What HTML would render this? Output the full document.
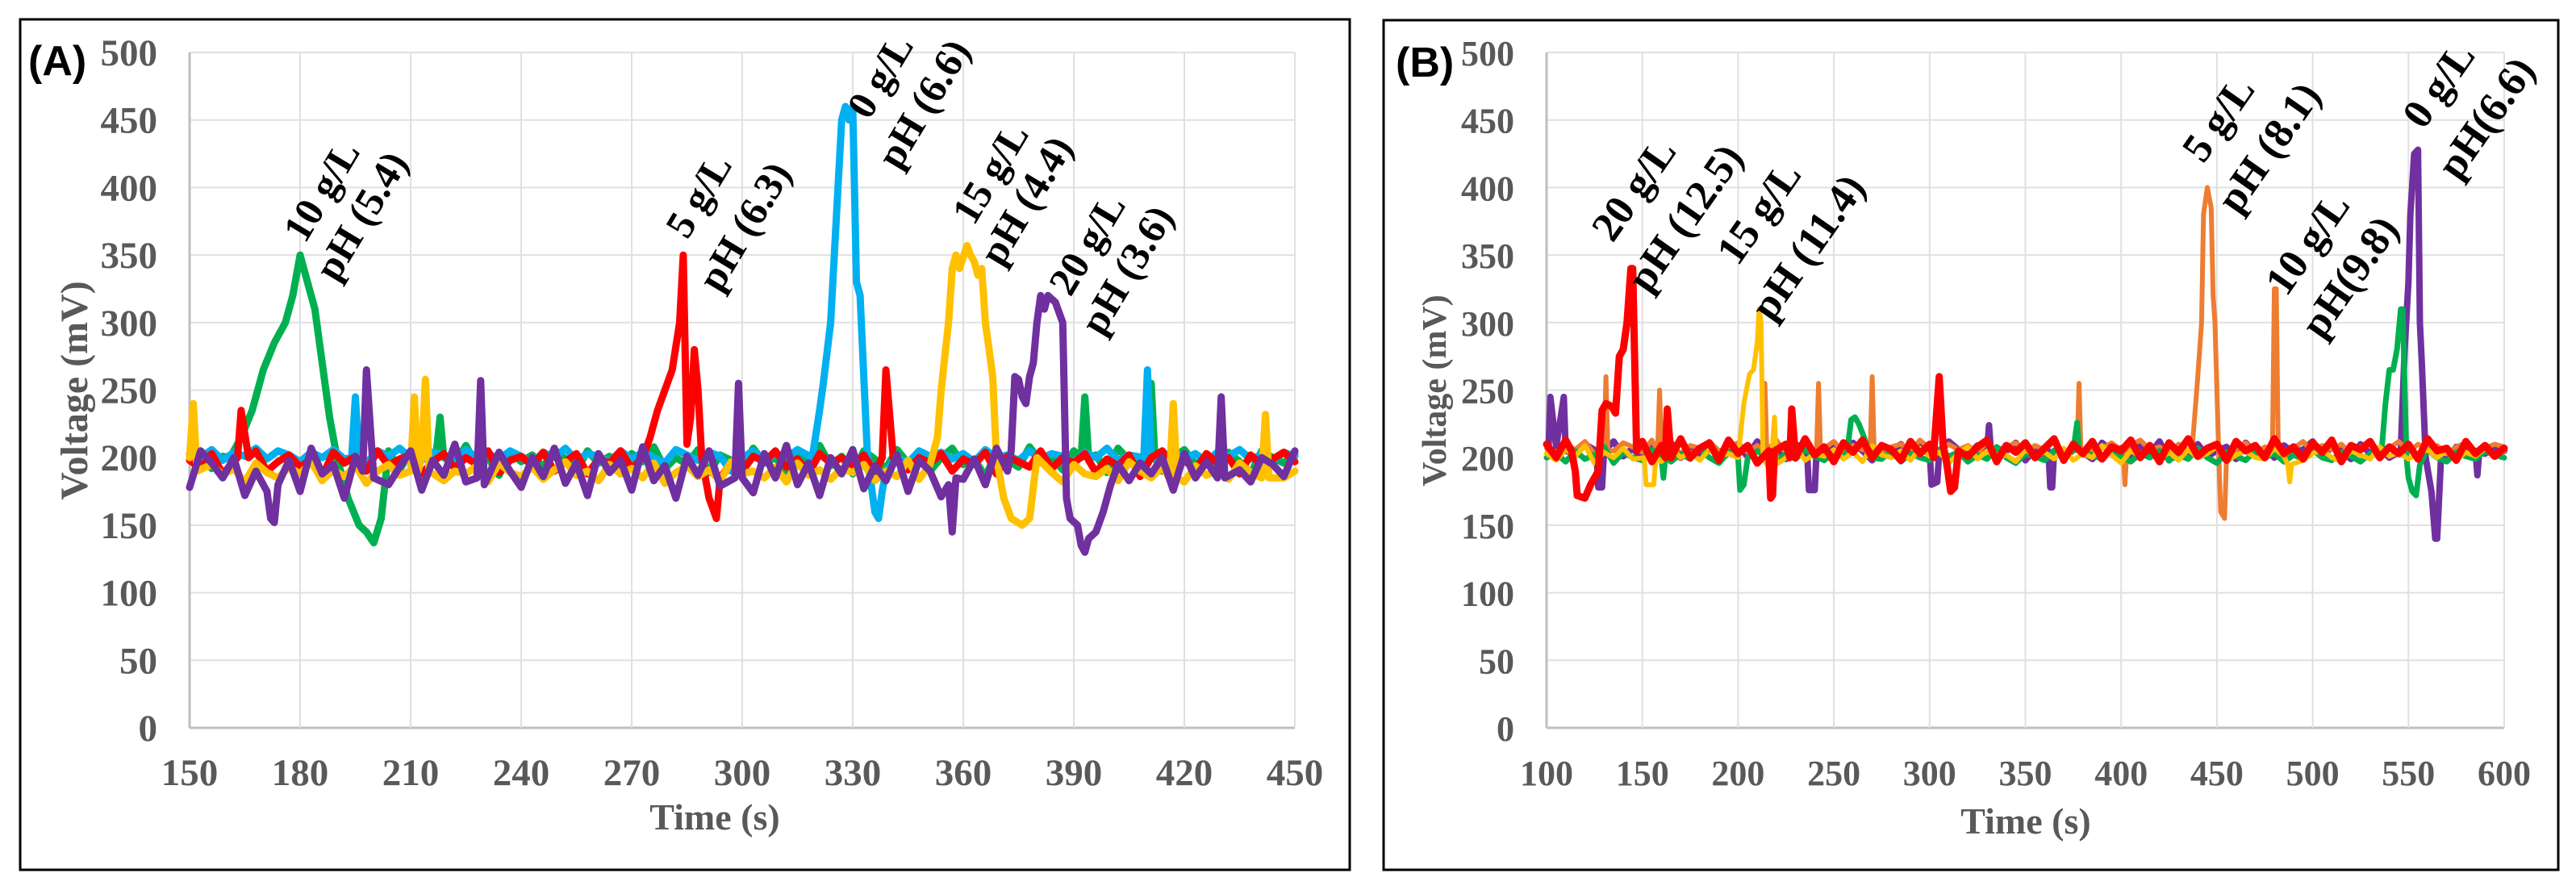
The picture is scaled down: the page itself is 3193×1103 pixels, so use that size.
<!DOCTYPE html>
<html><head><meta charset="utf-8"><title>Voltage vs Time</title>
<style>
html,body{margin:0;padding:0;background:#fff;}
svg{display:block;}
.tick{font-family:"Liberation Serif",serif;font-weight:bold;fill:#595959;}
.ann{font-family:"Liberation Serif",serif;font-weight:bold;fill:#000;}
</style></head>
<body>
<svg id="fig" width="3193" height="1103" viewBox="0 0 3193 1103" xmlns="http://www.w3.org/2000/svg">
<rect x="0" y="0" width="3193" height="1103" fill="#fff"/>
<rect x="25" y="24" width="1648" height="1054" fill="none" stroke="#000" stroke-width="3"/>
<rect x="1715" y="25" width="1456" height="1053" fill="none" stroke="#000" stroke-width="3"/>
<g id="gA"></g>
<g id="gB"></g>
<text x="35" y="93" font-family="Liberation Sans, sans-serif" font-weight="bold" font-size="52">(A)</text>
<text x="1730" y="95" font-family="Liberation Sans, sans-serif" font-weight="bold" font-size="52">(B)</text>
<text class="tick" font-size="48" text-anchor="middle" transform="translate(108,484) rotate(-90)">Voltage (mV)</text>
<text class="tick" font-size="42" text-anchor="middle" transform="translate(1792,484) rotate(-90)">Voltage (mV)</text>
<text class="tick" font-size="46" text-anchor="middle" x="886" y="1028">Time  (s)</text>
<text class="tick" font-size="46" text-anchor="middle" x="2511" y="1033">Time  (s)</text>
<g class="ann" font-size="50">
<text transform="translate(378,303) rotate(-59)">10 g/L</text>
<text transform="translate(417,351) rotate(-59)">pH (5.4)</text>
<text transform="translate(852,298) rotate(-59)">5 g/L</text>
<text transform="translate(892,364) rotate(-59)">pH (6.3)</text>
<text transform="translate(1077,150) rotate(-59)">0 g/L</text>
<text transform="translate(1114,212) rotate(-59)">pH (6.6)</text>
<text transform="translate(1207,281) rotate(-59)">15 g/L</text>
<text transform="translate(1241,332) rotate(-59)">pH (4.4)</text>
<text transform="translate(1327,369) rotate(-59)">20 g/L</text>
<text transform="translate(1366,418) rotate(-59)">pH (3.6)</text>
</g>
<g class="ann" font-size="52">
<text transform="translate(1999,302) rotate(-55)">20 g/L</text>
<text transform="translate(2043,365) rotate(-55)">pH (12.5)</text>
<text transform="translate(2154,331) rotate(-55)">15 g/L</text>
<text transform="translate(2196,400) rotate(-55)">pH (11.4)</text>
<text transform="translate(2731,204) rotate(-55)">5 g/L</text>
<text transform="translate(2774,267) rotate(-55)">pH (8.1)</text>
<text transform="translate(2834,369) rotate(-55)">10 g/L</text>
<text transform="translate(2878,422) rotate(-55)">pH(9.8)</text>
<text transform="translate(3004,162) rotate(-55)">0 g/L</text>
<text transform="translate(3047,225) rotate(-55)">pH(6.6)</text>
</g>
</svg>
<script>
// ===== Data: panel A (time 150..450, baseline sampled every 3 s) =====
const yTicks = [0,50,100,150,200,250,300,350,400,450,500];
const xTicksA = [150,180,210,240,270,300,330,360,390,420,450];
const xTicksB = [100,150,200,250,300,350,400,450,500,550,600];

const greenABase = [198,205,192,201,196,207,190,200,204,195,199,188,206,197,202,193,208,195,200,191,205,198,190,203,196,209,194,200,187,204,197,202,193,206,199,190,205,196,201,188,203,197,208,192,200,195,206,189,202,198,193,207,196,200,190,204,197,209,194,201,188,205,199,192,206,196,203,190,200,207,195,199,186,204,198,193,208,197,201,191,205,196,202,189,207,198,194,203,190,200,206,195,199,192,204,197,188,205,200,196,203];
const greenAPeakT = [161,164,167,170,173,176,178,180,182,184,186,188,190,193,196,198,200,202,204, 217,218,219, 392,393,394, 410,411,412];
const greenAPeakV = [200,215,235,265,285,300,320,350,330,310,270,230,200,170,150,145,137,155,205, 205,230,200, 200,245,200, 200,255,200];

const blueABase = [203,200,206,198,204,201,207,199,205,202,197,204,200,206,199,203,196,205,201,207,200,198,204,202,197,206,200,203,199,205,201,196,204,200,207,198,203,201,197,205,199,204,200,196,206,202,198,204,201,190,200,205,198,203,200,206,199,202,197,204,201,206,198,203,200,196,205,201,204,199,203,197,206,200,202,198,205,199,203,201,196,204,200,207,198,202,185,203,200,205,199,203,197,204,201,206,199,202,198,204,201];
const blueAPeakT = [194,195,196, 319,321,322,324,326,327,328,329,330,331,332,333,334,336,337,338,339, 409,410,411];
const blueAPeakV = [200,245,200, 200,235,255,300,400,450,460,450,460,330,320,260,200,160,155,175,190, 200,265,200];

const redABase = [198,192,203,188,200,195,205,190,197,202,193,199,186,204,196,201,190,205,194,199,202,188,197,203,192,200,195,205,189,198,201,194,204,190,197,203,188,199,196,205,192,200,195,203,187,198,202,193,204,196,190,201,197,205,193,199,188,203,196,200,194,202,189,198,205,191,200,196,203,190,199,195,204,188,201,197,193,205,192,200,196,203,189,199,194,202,186,200,205,193,198,191,203,196,200,188,202,195,199,204,197];
const redAPeakT = [163,164,166, 273,275,277,279,281,283,284,285,286,287,288,289,291,293,294, 338,339,341];
const redAPeakV = [200,235,200, 200,215,235,250,265,300,350,210,230,280,250,200,170,155,185, 200,265,200];

const yellowABase = [190,184,195,187,192,182,196,189,185,193,188,197,183,191,186,194,181,190,195,187,192,185,198,183,190,188,194,182,196,189,186,193,184,191,197,187,190,183,195,188,192,185,196,181,189,194,186,191,183,197,188,190,185,193,182,196,187,191,184,192,189,195,183,190,186,198,184,192,188,185,193,181,190,196,187,191,184,194,189,182,195,188,186,192,183,197,190,185,193,188,182,194,187,191,184,196,189,186,192,185,190];
const yellowAPeakT = [150,151,152, 210,211,212,213,214,215, 351,353,354,356,357,358,359,361,362,363,364,365,366,367,368,369,371,373,376,378,380, 416,417,418, 441,442,443];
const yellowAPeakV = [200,240,190, 190,245,190,200,258,190, 195,215,250,300,340,350,340,357,350,345,335,340,300,280,260,200,170,155,150,155,200, 185,240,185, 185,232,185];

const purpleABase = [178,205,196,185,200,172,190,203,182,198,175,207,188,195,170,201,184,209,180,193,205,176,198,187,210,182,195,173,204,190,178,200,186,207,181,196,172,203,189,198,176,208,183,194,170,201,187,205,179,197,190,174,203,185,209,180,196,172,200,188,206,177,194,183,202,175,198,190,171,205,184,199,180,207,188,195,173,202,186,198,178,204,190,175,209,183,196,188,200,176,203,185,197,179,207,191,182,200,195,186,205];
const purpleAPeakT = [171,172,173,174, 197,198,200, 228,229,230, 298,299,300, 356,357,358, 372,373,374,375,376,377,378,379,380,381,382,383,385,387,388,389,391,392,393,394,396,398,400,402, 429,430,431];
const purpleAPeakV = [175,155,152,180, 190,265,185, 185,257,180, 185,255,185, 180,145,185, 190,205,260,258,245,240,260,270,300,320,310,320,315,300,170,155,150,135,130,140,145,160,180,195, 185,245,185];

// ===== Data: panel B (time 100..600, baseline sampled every 5 s) =====
const purpleBBase = [205,208,200,203,210,198,206,212,201,207,199,209,204,211,200,206,202,210,198,205,208,201,212,203,207,199,210,204,206,200,209,202,211,205,198,207,203,210,201,208,204,199,212,206,202,209,200,207,205,211,198,206,203,210,201,208,204,199,211,205,207,200,209,203,212,198,206,204,210,201,205,208,199,211,203,207,200,209,204,206,212,201,208,205,199,210,203,207,200,211,206,202,209,204,198,208,205,210,203,207,205];
const purpleBPeakT = [101,102,109,110, 126,127,129,130, 236,237,240,241, 300,301,304,305, 330,331,332, 362,363,364,365, 546,548,550,551,553,555,556,557,559,562,564,565,567, 585,586,587];
const purpleBPeakV = [205,245,245,205, 205,178,178,205, 205,176,176,205, 205,180,182,205, 205,224,205, 205,178,178,205, 205,280,330,380,425,428,300,270,200,175,140,140,200, 205,187,205];

const orangeBBase = [207,204,210,206,212,203,209,205,211,208,204,213,206,210,203,209,207,212,205,208,211,204,209,206,213,203,208,210,205,207,212,204,209,206,211,203,208,210,205,213,207,204,210,206,209,203,212,205,208,211,204,209,206,212,203,208,210,205,207,211,204,209,213,206,208,203,210,205,212,207,204,209,206,211,203,208,210,205,207,212,204,209,206,210,203,208,211,205,207,212,204,210,206,209,203,208,211,205,207,210,208];
const orangeBPeakT = [130,131,132, 158,159,160, 213,214,215, 241,242,243, 269,270,271, 377,378,379, 401,402,403, 437,440,442,443,445,447,448,449,451,452,454,455, 479,480,481,482];
const orangeBPeakV = [205,260,205, 205,250,205, 205,255,205, 205,255,205, 205,260,205, 205,255,205, 205,180,205, 205,260,300,380,400,385,320,300,200,160,155,200, 205,325,325,205];

const greenBBase = [200,203,197,205,199,202,208,196,204,200,198,206,201,197,203,199,207,200,196,204,202,198,205,200,197,203,199,206,201,198,204,200,196,207,202,199,205,197,203,200,198,206,201,204,197,202,199,208,200,196,203,201,198,205,200,197,204,202,199,206,201,197,203,200,205,198,202,199,207,200,196,204,201,198,205,200,203,197,202,199,206,200,198,204,201,197,203,205,199,200,202,198,206,200,197,204,201,199,205,202,200];
const greenBPeakT = [160,161,162, 200,201,203,205, 257,259,261,263,265,267,269, 375,377,378, 536,538,540,542,544,546,547,549,550,552,554,556];
const greenBPeakV = [200,185,200, 200,176,180,200, 205,228,230,225,218,210,200, 205,226,205, 205,240,265,265,280,310,310,200,185,175,172,195];

const yellowBBase = [203,198,206,201,209,196,204,200,207,199,205,202,197,208,200,204,198,206,201,203,199,207,202,196,205,200,208,198,203,201,206,199,204,197,209,202,200,205,198,207,201,204,196,203,208,199,205,200,202,197,206,201,204,199,207,198,203,200,209,202,196,205,201,207,199,204,198,206,200,203,208,197,202,205,200,199,207,201,204,198,203,206,200,197,205,202,199,208,201,204,199,203,206,200,205,198,204,201,207,203,205];
const yellowBPeakT = [151,152,156,157, 200,203,206,208,210,211,212,213,217,219,220, 487,488,489];
const yellowBPeakV = [200,180,180,200, 200,240,262,265,285,310,300,200,190,230,195, 195,182,195];

const redBBase = [210,200,213,198,211,204,215,199,208,202,212,197,209,205,214,200,207,211,198,213,203,209,196,212,205,210,199,214,202,208,197,211,204,213,200,209,206,198,212,203,210,199,214,205,201,208,213,197,209,204,211,200,207,214,198,210,203,212,199,208,205,213,200,209,197,211,204,214,201,207,210,198,212,205,209,200,214,203,208,199,211,204,213,197,209,206,212,200,208,203,210,199,214,205,207,198,212,203,209,201,207];
const redBPeakT = [113,115,116,120,123,127,129,131,134,136,138,140,142,144,145,147, 162,163,165, 216,217,218,219, 227,228,230, 302,304,305,307,309,311,313,315];
const redBPeakV = [205,190,172,170,180,190,235,240,238,233,275,280,300,340,340,205, 200,236,200, 205,170,172,205, 200,236,200, 200,240,260,210,195,175,178,205];

// ===== Rendering =====
const NS = 'http://www.w3.org/2000/svg';
function mk(tag, attrs){ const e = document.createElementNS(NS, tag); for (const k in attrs) e.setAttribute(k, attrs[k]); return e; }

function mergeSeries(base, t0, step, pt, pv){
  const clusters = [];
  for (let i = 0; i < pt.length; i++){
    if (!clusters.length || pt[i] - clusters[clusters.length-1][1] > 6) clusters.push([pt[i], pt[i]]);
    else clusters[clusters.length-1][1] = pt[i];
  }
  const pts = [];
  base.forEach((v, i) => {
    const t = t0 + i*step;
    if (!clusters.some(c => t >= c[0]-1.5 && t <= c[1]+1.5)) pts.push([t, v]);
  });
  pt.forEach((t, i) => pts.push([t, pv[i]]));
  pts.sort((a, b) => a[0] - b[0]);
  return pts;
}

function drawChart(g, cfg){
  const sx = t => cfg.px0 + (t - cfg.tmin) / (cfg.tmax - cfg.tmin) * (cfg.px1 - cfg.px0);
  const sy = v => cfg.py0 - v / 500 * (cfg.py0 - cfg.py1);
  yTicks.forEach(v => {
    const l = mk('line', {x1: cfg.px0, x2: cfg.px1, y1: sy(v), y2: sy(v), stroke: v === 0 ? '#bfbfbf' : '#e0e0e0', 'stroke-width': v === 0 ? 3 : 2});
    
    
    g.appendChild(l);
    const tx = mk('text', {x: cfg.ylabX, y: sy(v) + 16, 'text-anchor': 'end', 'font-size': cfg.fs, class: 'tick'});
    
    
    tx.textContent = v;
    g.appendChild(tx);
  });
  cfg.xTicks.forEach(t => {
    const l = mk('line', {x1: sx(t), x2: sx(t), y1: cfg.py1, y2: cfg.py0, stroke: t === cfg.tmin ? '#bfbfbf' : '#e0e0e0', 'stroke-width': t === cfg.tmin ? 3 : 2});
    
    
    g.appendChild(l);
    const tx = mk('text', {x: sx(t), y: 973, 'text-anchor': 'middle', 'font-size': cfg.fs, class: 'tick'});
    
    
    tx.textContent = t;
    g.appendChild(tx);
  });
  cfg.series.forEach(s => {
    const pts = mergeSeries(s.base, cfg.tmin, cfg.step, s.pt, s.pv);
    const d = pts.map((p, i) => (i ? 'L' : 'M') + sx(p[0]).toFixed(1) + ',' + sy(p[1]).toFixed(1)).join(' ');
    const path = mk('path', {d: d, fill: 'none', stroke: s.color, 'stroke-width': s.w, 'stroke-linejoin': 'round', 'stroke-linecap': 'round'});
    
    
    g.appendChild(path);
  });
}

drawChart(document.getElementById('gA'), {
  px0: 235, px1: 1605, py0: 902, py1: 65, tmin: 150, tmax: 450, step: 3, ylabX: 195, fs: 47, xTicks: xTicksA,
  series: [
    {name: 'series-a-green', color: '#00B050', w: 9, base: greenABase, pt: greenAPeakT, pv: greenAPeakV},
    {name: 'series-a-blue', color: '#00B0F0', w: 9, base: blueABase, pt: blueAPeakT, pv: blueAPeakV},
    {name: 'series-a-red', color: '#FF0000', w: 9, base: redABase, pt: redAPeakT, pv: redAPeakV},
    {name: 'series-a-yellow', color: '#FFC000', w: 9, base: yellowABase, pt: yellowAPeakT, pv: yellowAPeakV},
    {name: 'series-a-purple', color: '#7030A0', w: 9, base: purpleABase, pt: purpleAPeakT, pv: purpleAPeakV}
  ]
});
drawChart(document.getElementById('gB'), {
  px0: 1917, px1: 3104, py0: 902, py1: 65, tmin: 100, tmax: 600, step: 5, ylabX: 1877, fs: 44, xTicks: xTicksB,
  series: [
    {name: 'series-b-purple', color: '#7030A0', w: 8, base: purpleBBase, pt: purpleBPeakT, pv: purpleBPeakV},
    {name: 'series-b-orange', color: '#ED7D31', w: 6, base: orangeBBase, pt: orangeBPeakT, pv: orangeBPeakV},
    {name: 'series-b-green', color: '#00B050', w: 7, base: greenBBase, pt: greenBPeakT, pv: greenBPeakV},
    {name: 'series-b-yellow', color: '#FFC000', w: 6, base: yellowBBase, pt: yellowBPeakT, pv: yellowBPeakV},
    {name: 'series-b-red', color: '#FF0000', w: 9, base: redBBase, pt: redBPeakT, pv: redBPeakV}
  ]
});
</script>
</body></html>
